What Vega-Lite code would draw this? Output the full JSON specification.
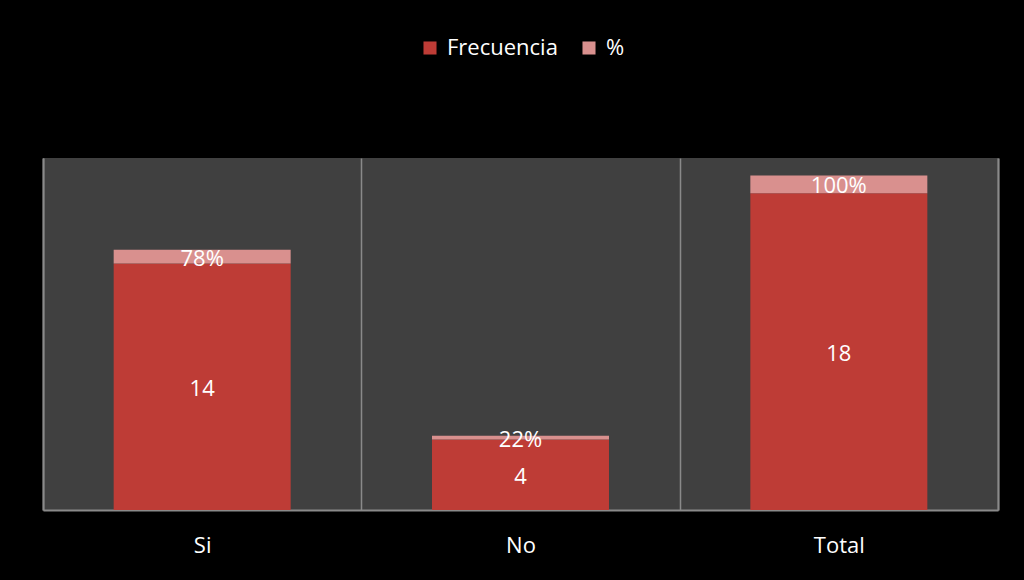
{
  "$schema": "https://vega.github.io/schema/vega-lite/v6.json",
  "autosize": {"type": "none"},
  "padding": {"left": 43, "top": 158, "right": 26, "bottom": 70},
  "width": 955,
  "height": 352,
  "background": "#000000",
  "config": {
    "view": {"fill": "#404040", "stroke": null},
    "font": "Open Sans"
  },
  "data": {
    "values": [
      {"cat": "Si", "serie": "Frecuencia", "valor": 14, "label": "14"},
      {"cat": "Si", "serie": "%", "valor": 0.78, "label": "78%"},
      {"cat": "No", "serie": "Frecuencia", "valor": 4, "label": "4"},
      {"cat": "No", "serie": "%", "valor": 0.22, "label": "22%"},
      {"cat": "Total", "serie": "Frecuencia", "valor": 18, "label": "18"},
      {"cat": "Total", "serie": "%", "valor": 1, "label": "100%"}
    ]
  },
  "transform": [
    {"stack": "valor", "groupby": ["cat"], "as": ["v0", "v1"], "sort": [{"field": "serie", "order": "descending"}]},
    {"calculate": "(datum.v0 + datum.v1) / 2", "as": "mid"}
  ],
  "layer": [
    {
      "mark": {"type": "bar", "width": {"band": 0.556}},
      "encoding": {
        "x": {
          "field": "cat", "type": "nominal", "sort": ["Si", "No", "Total"],
          "scale": {"paddingInner": 0, "paddingOuter": 0},
          "axis": {
            "title": null, "labelAngle": 0, "labelColor": "#ffffff", "labelFontSize": 22,
            "labelPadding": 25, "ticks": false, "grid": true, "tickBand": "extent",
            "gridColor": "#8a8a8a", "gridWidth": 1.5, "domainColor": "#8a8a8a", "domainWidth": 2
          }
        },
        "y": {
          "field": "v0", "type": "quantitative",
          "scale": {"domain": [0, 20], "nice": false},
          "axis": {"title": null, "labels": false, "ticks": false, "grid": false, "domainColor": "#8a8a8a", "domainWidth": 2}
        },
        "y2": {"field": "v1"},
        "color": {
          "field": "serie", "type": "nominal",
          "scale": {"domain": ["Frecuencia", "%"], "range": ["#BE3C36", "#D9908E"]},
          "legend": {
            "title": null, "orient": "none", "direction": "horizontal",
            "legendX": 376, "legendY": -121,
            "labelColor": "#ffffff", "labelFontSize": 22, "symbolType": "square",
            "symbolSize": 170, "symbolStrokeWidth": 0, "columnPadding": 20, "labelOffset": 6
          }
        }
      }
    },
    {
      "mark": {"type": "text", "color": "#ffffff", "fontSize": 22, "baseline": "middle", "dy": 2},
      "encoding": {
        "x": {"field": "cat", "type": "nominal", "sort": ["Si", "No", "Total"]},
        "y": {
          "field": "mid", "type": "quantitative",
          "axis": {"orient": "right", "title": null, "labels": false, "ticks": false, "grid": false, "domainColor": "#8a8a8a", "domainWidth": 2}
        },
        "text": {"field": "label"}
      }
    }
  ],
  "resolve": {"axis": {"y": "independent"}}
}
